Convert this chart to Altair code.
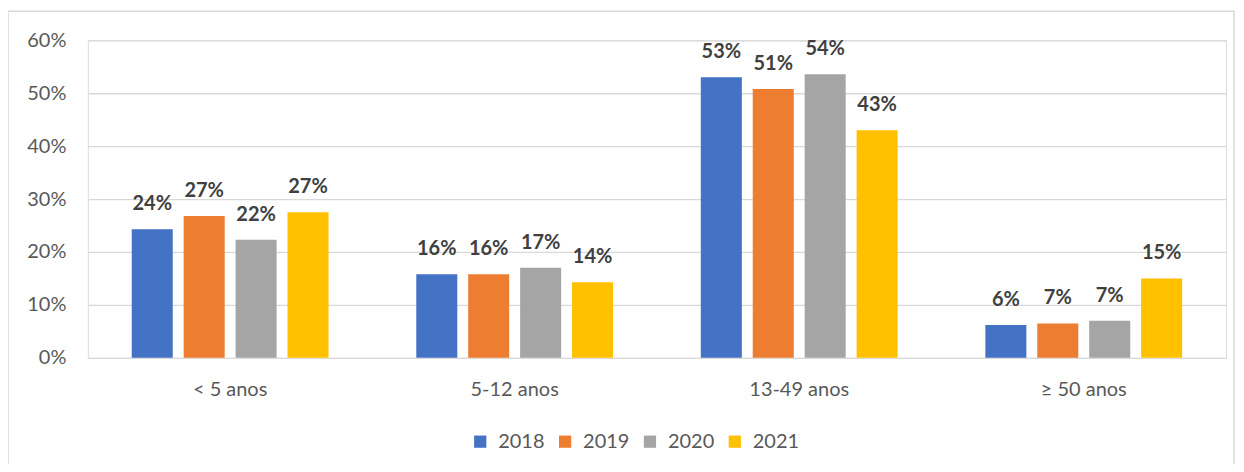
import altair as alt
import pandas as pd

categories = ["< 5 anos", "5-12 anos", "13-49 anos", "≥ 50 anos"]
years = ["2018", "2019", "2020", "2021"]
values = {
    "2018": [24.3, 15.8, 53.0, 6.2],
    "2019": [26.8, 15.8, 50.8, 6.5],
    "2020": [22.3, 17.0, 53.6, 7.0],
    "2021": [27.5, 14.3, 43.0, 15.0],
}
labels = {
    "2018": ["24%", "16%", "53%", "6%"],
    "2019": ["27%", "16%", "51%", "7%"],
    "2020": ["22%", "17%", "54%", "7%"],
    "2021": ["27%", "14%", "43%", "15%"],
}
colors = ["#4472C4", "#ED7D31", "#A5A5A5", "#FFC000"]

rows = []
for y in years:
    for i, c in enumerate(categories):
        rows.append({"cat": c, "year": y, "v": values[y][i] / 100.0, "lbl": labels[y][i]})
df = pd.DataFrame(rows)

FONT = "Lato"
FS = 20

x = alt.X("cat:N", sort=categories, title=None,
          scale=alt.Scale(paddingInner=0.27, paddingOuter=0.135),
          axis=alt.Axis(labelAngle=0, labelFontSize=FS, labelColor="#595959",
                        labelFont=FONT, domain=False, ticks=False, labelPadding=22,
                        grid=False))
xo = alt.XOffset("year:N", sort=years,
                 scale=alt.Scale(paddingInner=0.21, paddingOuter=0.105))
yenc = alt.Y("v:Q", title=None,
             scale=alt.Scale(domain=[0, 0.6], nice=False),
             axis=alt.Axis(format=".0%", values=[0, 0.1, 0.2, 0.3, 0.4, 0.5, 0.6],
                           labelFontSize=FS, labelColor="#595959", labelFont=FONT,
                           domain=False, ticks=False, labelPadding=22,
                           grid=True, gridColor="#d9d9d9", gridWidth=1.3))

bars = alt.Chart(df).mark_bar().encode(
    x=x, xOffset=xo, y=yenc,
    color=alt.Color("year:N", sort=years, scale=alt.Scale(domain=years, range=colors),
                    legend=alt.Legend(title=None, orient="none", direction="horizontal",
                                      legendX=383, legendY=392,
                                      symbolType="square", symbolSize=150,
                                      symbolStrokeWidth=0,
                                      labelFontSize=FS, labelColor="#595959",
                                      labelFont=FONT, labelOffset=8, columnPadding=10)),
)

text = alt.Chart(df).mark_text(baseline="alphabetic", dy=-19, fontSize=FS,
                               fontWeight="bold", color="#404040", font=FONT).encode(
    x=x, xOffset=xo, y=yenc, text="lbl:N")

border = alt.Chart(pd.DataFrame({"a": [0]})).mark_rect(
    fill=None, stroke="#d9d9d9", strokeWidth=1.5).encode(
    x=alt.value(-80), x2=alt.value(1148), y=alt.value(-29), y2=alt.value(460))

chart = alt.layer(bars, text, border).properties(
    width=1140, height=318,
    autosize=alt.AutoSizeParams(type="none"),
    padding={"left": 80, "top": 32, "right": 10, "bottom": 106},
).configure_view(stroke=None).configure(background="white")

chart.save("out.html", embed_options={"renderer": "svg", "actions": False})
